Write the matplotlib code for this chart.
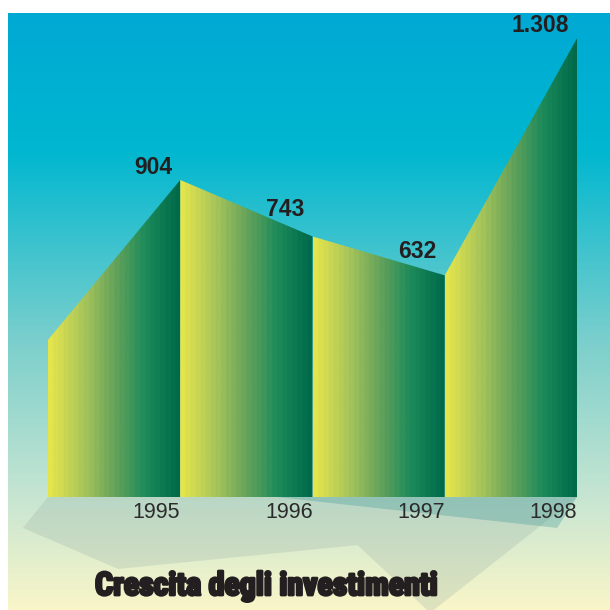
import numpy as np
import matplotlib
matplotlib.use("Agg")
import matplotlib.pyplot as plt
from matplotlib.colors import LinearSegmentedColormap, ListedColormap
from matplotlib.patches import Polygon
import matplotlib.patheffects as pe

# data (first point is unlabeled, ~448)
years = ["1995", "1996", "1997", "1998"]
start_value = 448
values = [904, 743, 632, 1308]
title = "Crescita degli investimenti"

series = [start_value] + values
xs = np.arange(len(series))

fig = plt.figure(figsize=(6.1, 6.1), dpi=100)
fig.patch.set_facecolor("white")
ax = fig.add_axes([8 / 610, 0, 602 / 610, 597 / 610])
xlim = (-0.3025, 4.2495)
ylim = (-322, 1380)
ax.set_xlim(*xlim)
ax.set_ylim(*ylim)
ax.axis("off")

# background: vertical gradient blue -> pale yellow
bg = LinearSegmentedColormap.from_list("bg", [
    (0.0, "#f9f6c8"),
    (0.18, "#c9e6d2"),
    (0.45, "#7bcfcc"),
    (0.77, "#00b7d0"),
    (1.0, "#00a9d4"),
])
grad = np.linspace(0, 1, 256).reshape(-1, 1)
ax.imshow(grad, cmap=bg, aspect="auto", origin="lower",
          extent=[*xlim, *ylim], zorder=0)

# floor shadow (decorative)
shadow = Polygon([(0, 0), (-0.19, -88), (0.53, -205), (2.34, -137),
                  (2.89, -330), (4, 0)], closed=True,
                 facecolor="#8fa8a0", alpha=0.24, edgecolor="none", zorder=1)
ax.add_patch(shadow)
shadow2 = Polygon([(1.73, 0), (3.85, -88), (4, 0)], closed=True,
                  facecolor="#4a9e9c", alpha=0.35, edgecolor="none", zorder=1)
ax.add_patch(shadow2)

# area segments with banded yellow -> green gradient
seg_cmap = LinearSegmentedColormap.from_list("seg", [
    "#e4e44c", "#aac65a", "#66a35a", "#1c8a5a", "#006a4a"])
seg_cmap = ListedColormap(seg_cmap(np.linspace(0, 1, 26)))
hgrad = np.linspace(0, 1, 256).reshape(1, -1)
top = max(series)
for i in range(1, len(series)):
    poly = Polygon([(xs[i - 1], 0), (xs[i - 1], series[i - 1]),
                    (xs[i], series[i]), (xs[i], 0)], closed=True,
                   facecolor="none", edgecolor="none")
    ax.add_patch(poly)
    im = ax.imshow(hgrad, cmap=seg_cmap, aspect="auto",
                   extent=[xs[i - 1], xs[i], 0, top], zorder=2)
    im.set_clip_path(poly)

# value labels
label_dy = [0, 14, 11, 0]
for i, v in enumerate(values):
    txt = f"{v:,}".replace(",", ".")
    ax.annotate(txt, (xs[i + 1], v), xytext=(-8, 1 + label_dy[i]),
                textcoords="offset pixels", ha="right", va="bottom",
                fontsize=16.5, fontweight="bold", family="Liberation Sans",
                color="#231f20", zorder=3)

# year labels under the right end of each segment
for i, yr in enumerate(years):
    ax.annotate(yr, (xs[i + 1], 0), xytext=(0, -5), textcoords="offset pixels",
                ha="right", va="top", fontsize=15.5, family="Liberation Sans",
                color="#2b2b2b", zorder=3)

fig.text(267 / 610, 1 - 586 / 610, title, ha="center", va="center",
         fontsize=23, fontweight="bold",
         family=["Roboto Condensed", "Liberation Sans"],
         color="#231f20",
         path_effects=[pe.withStroke(linewidth=2.0, foreground="#231f20")])

fig.savefig("out.png", dpi=100, facecolor="white")
